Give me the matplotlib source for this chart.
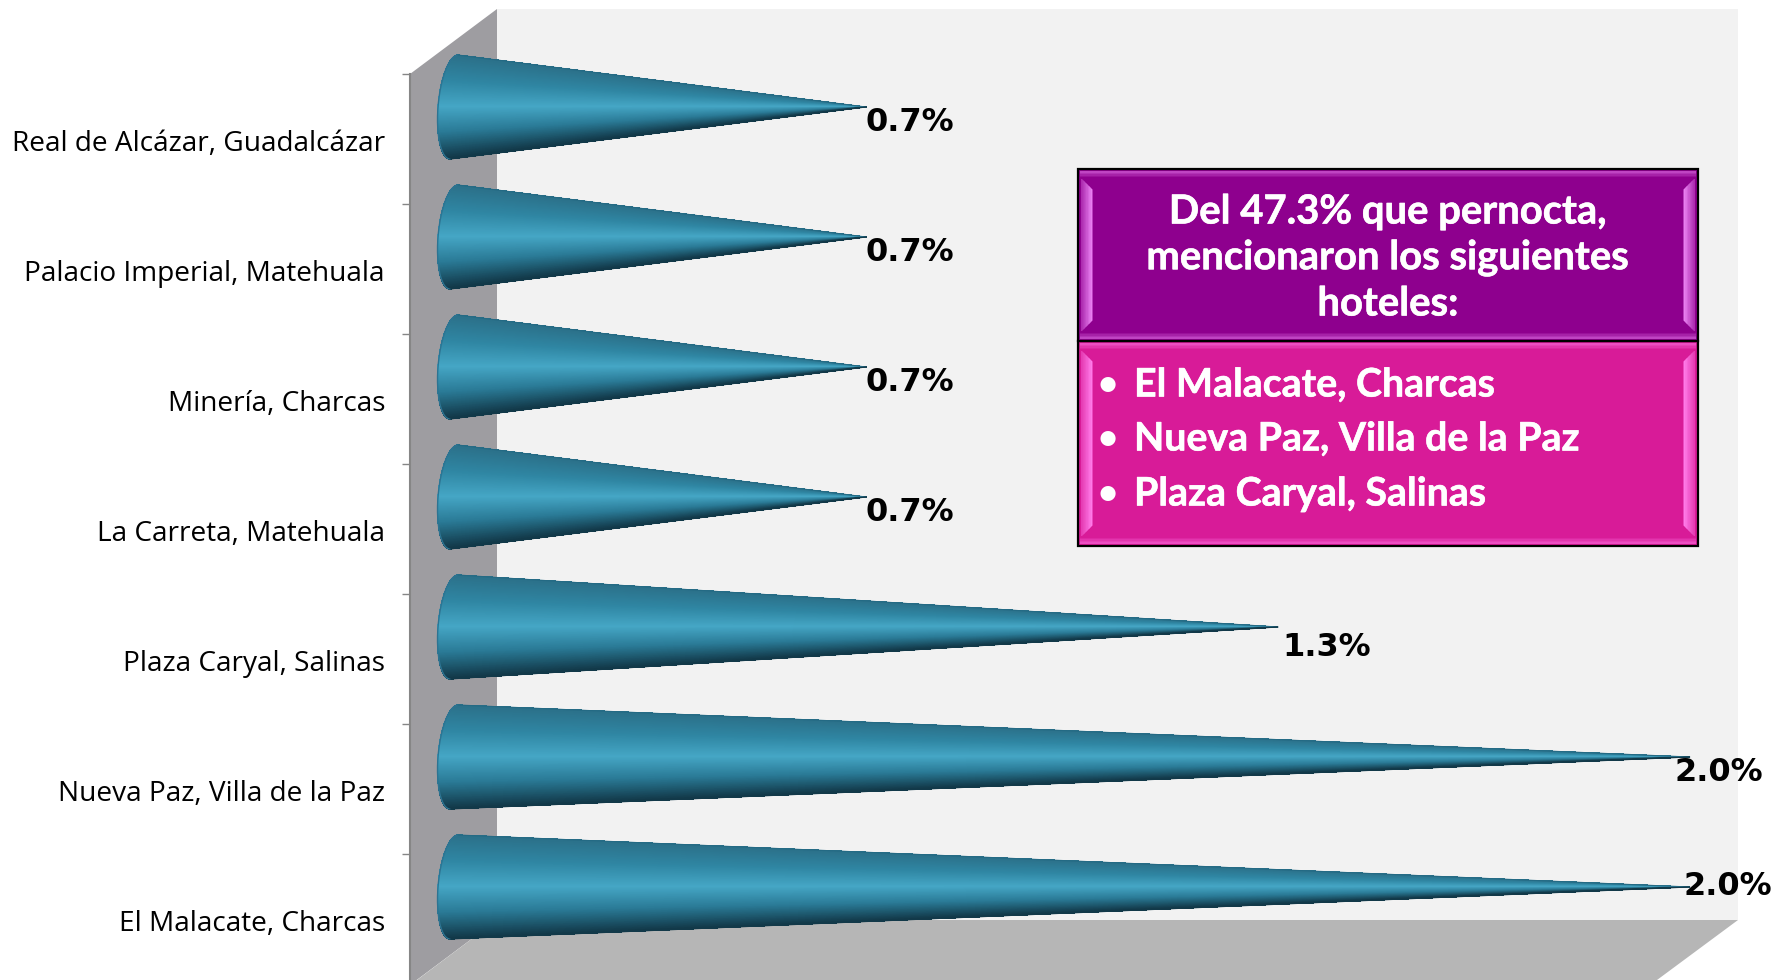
import numpy as np
import matplotlib
matplotlib.use("Agg")
import matplotlib.pyplot as plt
import matplotlib.patheffects as pe
from matplotlib.collections import PolyCollection
from matplotlib.colors import LinearSegmentedColormap, to_rgb
from matplotlib.patches import Polygon, Rectangle

# chart data, bottom category first
hotels = ["El Malacate, Charcas", "Nueva Paz, Villa de la Paz", "Plaza Caryal, Salinas",
          "La Carreta, Matehuala", "Minería, Charcas", "Palacio Imperial, Matehuala",
          "Real de Alcázar, Guadalcázar"]
values = [1.98, 1.98, 1.32, 0.66, 0.66, 0.66, 0.66]
box_title = ["Del 47.3% que pernocta,", "mencionaron los siguientes", "hoteles:"]
box_items = ["El Malacate, Charcas", "Nueva Paz, Villa de la Paz", "Plaza Caryal, Salinas"]

W, H = 1771, 980
# pixel offset of each value label from the cone tip
label_offsets = [(-6, 1), (-15, -15), (5, -20), (0, -15), (0, -15), (0, -15), (0, -15)]

fig = plt.figure(figsize=(W / 100, H / 100), dpi=100, facecolor="white")

# walls of the fake 3d box, in pixels
bg = fig.add_axes([0, 0, 1, 1], zorder=0)
bg.set_xlim(0, W)
bg.set_ylim(H, 0)
bg.axis("off")
bg.add_patch(Polygon([(497, 9), (1738, 9), (1738, 920), (497, 920)], color="#f2f2f2", lw=0))
bg.add_patch(Polygon([(410, 74), (497, 9), (497, 920), (410, 985)], color="#9e9da1", lw=0))
bg.add_patch(Polygon([(497, 920), (1738, 920), (1657, 980), (417, 980)], color="#b6b6b6", lw=0))

# data axes: x is the percentage, y the category index
x0_px, px_per_val = 454, 624
y0_px, px_per_cat = 887, 130
ax = fig.add_axes([410 / W, 0, (W - 410) / W, (H - 74) / H], zorder=1)
ax.patch.set_alpha(0)
ax.set_xlim((410 - x0_px) / px_per_val, (W - x0_px) / px_per_val)
ax.set_ylim((y0_px - H) / px_per_cat, (y0_px - 74) / px_per_cat)
for side in ["top", "right", "bottom"]:
    ax.spines[side].set_visible(False)
ax.spines["left"].set_color("#868686")
ax.spines["left"].set_linewidth(1.5)
ax.set_xticks([])

idx = np.arange(len(hotels))
ax.set_yticks(idx + 0.254)
ax.set_yticklabels([])
ax.tick_params(axis="y", which="major", length=6, width=1, color="#868686")
ax.set_yticks(idx - 0.26, minor=True)
ax.set_yticklabels(hotels, minor=True, fontsize=20.2, family="Open Sans", color="black")
ax.tick_params(axis="y", which="minor", length=0, pad=18)

cone_cmap = LinearSegmentedColormap.from_list(
    "cone", ["#2b7089", "#2f86a3", "#45a6c5", "#2a7a96", "#123949"])

half_h = 0.4
bulge = 16 / px_per_val
skew = 4 / px_per_val
n_strips = 300
for i, v in enumerate(values):
    s = np.linspace(1, -1, n_strips + 1)
    bx = -bulge * np.sqrt(1 - s ** 2) + skew * s
    by = i + half_h * s
    polys = [[(bx[k], by[k]), (bx[k + 1], by[k + 1]), (v, i)] for k in range(n_strips)]
    shades = cone_cmap(np.linspace(0, 1, n_strips))
    ax.add_collection(PolyCollection(polys, facecolors=shades, edgecolors=shades, linewidths=0.3,
                                     antialiaseds=False, clip_on=False))
    ax.plot(bx, by, color="#2d7492", lw=1, clip_on=False)
    ax.plot([bx[0], v], [by[0], i], color="#246a84", lw=0.8, clip_on=False)
    ax.plot([bx[-1], v], [by[-1], i], color="#123949", lw=0.8, clip_on=False)
    ax.annotate(f"{v:.1f}%", (v, i), xytext=(label_offsets[i][0] * 0.72, label_offsets[i][1] * 0.72),
                textcoords="offset points", ha="left", va="center", fontsize=23,
                fontweight="bold", color="black", annotation_clip=False, zorder=5)

# text boxes on top
top = fig.add_axes([0, 0, 1, 1], zorder=2)
top.set_xlim(0, W)
top.set_ylim(H, 0)
top.axis("off")
top.patch.set_alpha(0)


def blend(a, b, t):
    a, b = np.array(to_rgb(a)), np.array(to_rgb(b))
    return tuple(a + (b - a) * t)


def bevel_box(x0, y0, x1, y1, fill, light):
    top.add_patch(Rectangle((x0, y0), x1 - x0, y1 - y0, facecolor=fill, edgecolor="none"))
    n = 7
    for k in range(n):
        t = k / (n - 1)
        col = blend(fill, light, 0.35 + 0.65 * t)
        d = 3 + k * 11 / n
        e = 11 / n + 0.5
        for xa, xb in [(x0 + d, x0 + d + e), (x1 - d, x1 - d - e)]:
            top.add_patch(Polygon([(xa, y0 + d + 6), (xb, y0 + d + e + 6),
                                   (xb, y1 - d - e - 6), (xa, y1 - d - 6)], color=col, lw=0))
    for k in range(5):
        col = blend(light, fill, (k + 1) / 5 * 0.9 + 0.1)
        col = blend(fill, col, 0.75)
        top.add_patch(Rectangle((x0 + 2, y0 + 2 + k * 1.6), x1 - x0 - 4, 1.7, color=col, lw=0))
        top.add_patch(Rectangle((x0 + 2, y1 - 3.7 - k * 1.6), x1 - x0 - 4, 1.7, color=col, lw=0))
    top.add_patch(Rectangle((x0, y0), x1 - x0, y1 - y0, facecolor="none", edgecolor="black", lw=1.6))


bevel_box(1078, 341, 1698, 546, "#d81b98", "#ff7ae8")
bevel_box(1078, 169, 1698, 341, "#8e008e", "#e87ff0")

heavy = [pe.withStroke(linewidth=0.4, foreground="white")]
for line, y in zip(box_title, [212, 258, 304]):
    top.text(1388, y, line, ha="center", va="center", color="white", fontsize=28.8,
             family="Lato", fontweight="bold", path_effects=heavy)
for line, y in zip(box_items, [385, 439, 494]):
    top.text(1108, y, "•", ha="center", va="center", color="white", fontsize=25,
             family="Lato", fontweight="bold")
    top.text(1134, y, line, ha="left", va="center", color="white", fontsize=28.3,
             family="Lato", fontweight="bold", path_effects=heavy)

fig.savefig("out.png", dpi=100)
